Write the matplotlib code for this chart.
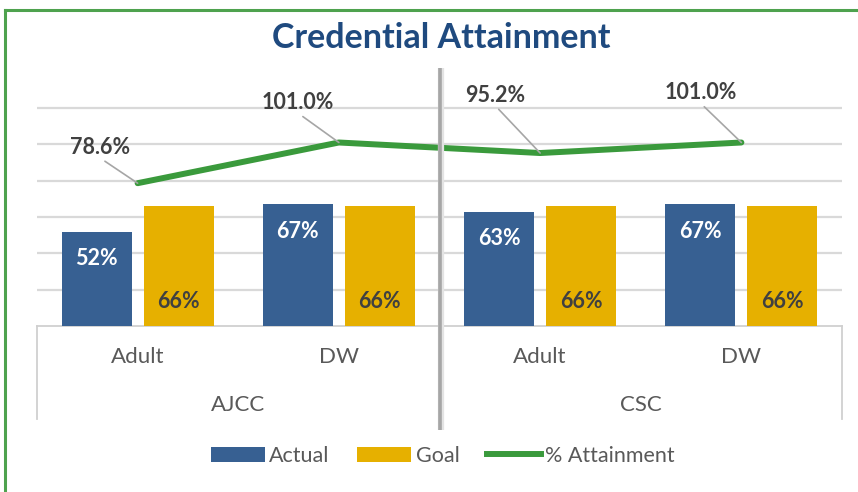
import matplotlib
matplotlib.use("Agg")
import matplotlib.pyplot as plt
from matplotlib.lines import Line2D
from matplotlib.patches import Patch
import numpy as np

plt.rcParams["font.family"] = ["Lato", "DejaVu Sans"]

programs = ["AJCC", "CSC"]
sub_cats = ["Adult", "DW", "Adult", "DW"]
actual = [0.52, 0.67, 0.63, 0.67]
goal = [0.66, 0.66, 0.66, 0.66]
attainment = [0.786, 1.010, 0.952, 1.010]
actual_labels = ["52%", "67%", "63%", "67%"]
goal_labels = ["66%", "66%", "66%", "66%"]
attain_labels = ["78.6%", "101.0%", "95.2%", "101.0%"]

BLUE = "#376092"
GOLD = "#E6B000"
GREEN = "#3A9A3C"
GRID = "#D9D9D9"
AXIS_GRAY = "#D0D0D0"
LABEL_GRAY = "#595959"
DARK = "#404040"

W, H = 858, 492
fig = plt.figure(figsize=(W / 100, H / 100), dpi=100)

# plot area in pixels: x 37..842, y 68..326
left, right, top, bottom = 37, 842, 68, 326
ax = fig.add_axes([left / W, 1 - bottom / H, (right - left) / W, (bottom - top) / H])
ymax = 1.42
ax.set_xlim(-0.5, 3.5)
ax.set_ylim(0, ymax)
for s in ax.spines.values():
    s.set_visible(False)
ax.set_xticks([])
ax.set_yticks([])

for g in np.arange(0.2, 1.21, 0.2):
    ax.axhline(g, color=GRID, lw=1.6, zorder=0)

x = np.arange(len(sub_cats))
bw = 0.348
off = 0.204
ax.bar(x - off, actual, bw, color=BLUE, zorder=2)
ax.bar(x + off, goal, bw, color=GOLD, zorder=2)
ax.plot(x, attainment, color=GREEN, lw=4.3, zorder=3, solid_capstyle="round")

px = 0.72  # points per pixel
for xi, v, lab in zip(x, actual, actual_labels):
    ax.annotate(lab, (xi - off, v), xytext=(0, -27 * px), textcoords="offset points",
                ha="center", va="center", color="white", fontsize=15.5, fontweight="bold", zorder=4)
for xi, lab in zip(x, goal_labels):
    ax.annotate(lab, (xi + off, 0), xytext=(0, 24 * px), textcoords="offset points",
                ha="center", va="center", color=DARK, fontsize=15.5, fontweight="bold", zorder=4)

label_offsets = [(-38, 36), (-41, 40), (-45, 58), (-41, 50)]
for xi, v, lab, (dx, dy) in zip(x, attainment, attain_labels, label_offsets):
    ax.annotate(lab, (xi, v), xytext=(dx * px, dy * px), textcoords="offset points",
                ha="center", va="center", color=DARK, fontsize=15.5, fontweight="bold", zorder=5,
                arrowprops=dict(arrowstyle="-", color="#A6A6A6", lw=1.2, relpos=(0.5, 0.0),
                                shrinkA=1, shrinkB=0))


def ay(py):
    # pixel y -> axes fraction
    return (bottom - py) / (bottom - top)


xt = ax.get_xaxis_transform()
# multi-level category axis
ax.plot([-0.5, 3.5], [0, 0], color=AXIS_GRAY, lw=1.3, transform=xt, clip_on=False, zorder=1)
for xv in [-0.5, 3.5]:
    ax.plot([xv, xv], [0, ay(419)], color=AXIS_GRAY, lw=1.3, transform=xt, clip_on=False)
for xi, lab in zip(x, sub_cats):
    ax.text(xi, ay(357), lab, transform=xt, ha="center", va="center",
            fontsize=16, color=LABEL_GRAY)
for i, lab in enumerate(programs):
    ax.text(0.5 + 2 * i, ay(405), lab, transform=xt, ha="center", va="center",
            fontsize=16, color=LABEL_GRAY)

# group separator with soft shadow
ax.plot([1.5 + 0.006, 1.5 + 0.006], [ay(68), ay(430)], color="#E3E3E3", lw=4.5,
        transform=xt, clip_on=False, zorder=6, solid_capstyle="butt")
ax.plot([1.5, 1.5], [ay(68), ay(430)], color="#A6A6A6", lw=2.6,
        transform=xt, clip_on=False, zorder=7, solid_capstyle="butt")

fig.text(441 / W, 1 - 38 / H, "Credential Attainment", ha="center", va="center",
         fontsize=24.5, fontweight="bold", color="#1F4A7F")

handles = [Patch(facecolor=BLUE, label="Actual"),
           Patch(facecolor=GOLD, label="Goal"),
           Line2D([0], [0], color=GREEN, lw=4.3, label="% Attainment")]
fig.legend(handles=handles, loc="center", bbox_to_anchor=(443 / W, 1 - 456 / H), ncol=3,
           frameon=False, fontsize=15.5, labelcolor=LABEL_GRAY, handlelength=2.5,
           handleheight=0.7, handletextpad=0.2, columnspacing=1.3)

# green outer border
fig.add_artist(Line2D([5 / W, 1], [1 - 10 / H, 1 - 10 / H], color="#4EA24E", lw=2.2,
                      transform=fig.transFigure))
fig.add_artist(Line2D([5 / W, 5 / W], [1 - 10 / H, 0], color="#4EA24E", lw=2.2,
                      transform=fig.transFigure))

fig.savefig("out.png", dpi=100)
